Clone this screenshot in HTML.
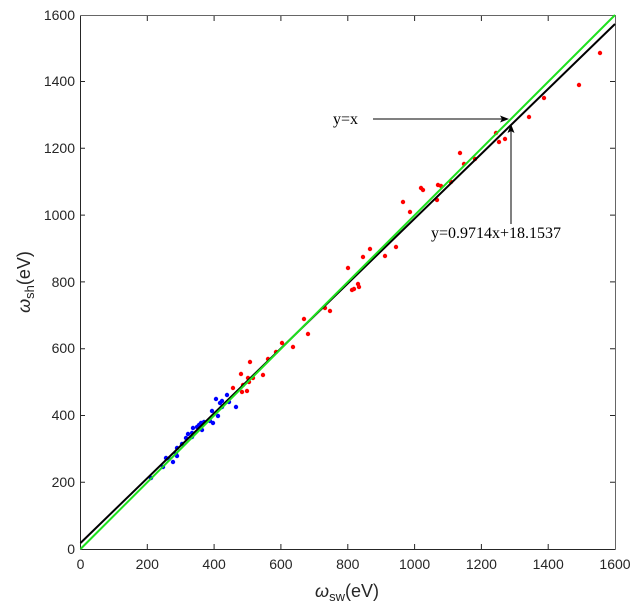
<!DOCTYPE html>
<html><head><meta charset="utf-8"><style>body{margin:0;background:#fff}svg{display:block}</style></head><body>
<svg width="643" height="614" viewBox="0 0 643 614" xmlns="http://www.w3.org/2000/svg" font-family="Liberation Sans, sans-serif">
<rect width="643" height="614" fill="#fff"/>
<g stroke="#262626" stroke-width="1" fill="none">
<path d="M80.5 549.5H615.5M80.5 549.5V15.5" />
<path d="M80.5 15.5H615.5V549.5" stroke="#666"/>
</g>
<g stroke="#262626" stroke-width="1">
<path d="M147.3 549v-5M214.1 549v-5M280.9 549v-5M347.8 549v-5M414.6 549v-5M481.4 549v-5M548.2 549v-5"/>
<path d="M147.3 16v5M214.1 16v5M280.9 16v5M347.8 16v5M414.6 16v5M481.4 16v5M548.2 16v5"/>
<path d="M80 482.3h5M80 415.5h5M80 348.7h5M80 281.9h5M80 215.1h5M80 148.3h5M80 81.5h5"/>
<path d="M615 482.3h-5M615 415.5h-5M615 348.7h-5M615 281.9h-5M615 215.1h-5M615 148.3h-5M615 81.5h-5"/>
</g>
<g fill="#262626" font-size="14" text-anchor="middle">
<text x="80.5" y="569">0</text><text x="147.3" y="569">200</text><text x="214.1" y="569">400</text><text x="280.9" y="569">600</text><text x="347.8" y="569">800</text><text x="414.6" y="569">1000</text><text x="481.4" y="569">1200</text><text x="548.2" y="569">1400</text><text x="615" y="569">1600</text>
</g>
<g fill="#262626" font-size="14" text-anchor="end">
<text x="75" y="554">0</text><text x="75" y="487">200</text><text x="75" y="420">400</text><text x="75" y="353">600</text><text x="75" y="287">800</text><text x="75" y="220">1000</text><text x="75" y="153">1200</text><text x="75" y="86">1400</text><text x="75" y="20">1600</text>
</g>
<text x="347" y="597" font-size="18" fill="#262626" text-anchor="middle"><tspan font-style="italic">ω</tspan><tspan font-size="13" dy="4">sw</tspan><tspan dy="-4">(eV)</tspan></text>
<text transform="translate(30,282) rotate(-90)" font-size="18" fill="#262626" text-anchor="middle"><tspan font-style="italic">ω</tspan><tspan font-size="13" dy="4">sh</tspan><tspan dy="-4">(eV)</tspan></text>
<g fill="#f00">
<circle cx="600" cy="53" r="2.2"/><circle cx="579" cy="85" r="2.2"/><circle cx="544" cy="98" r="2.2"/><circle cx="529" cy="117" r="2.2"/><circle cx="496" cy="133" r="2.2"/><circle cx="499" cy="142" r="2.2"/><circle cx="505" cy="139" r="2.2"/><circle cx="460" cy="153" r="2.2"/><circle cx="464" cy="164" r="2.2"/><circle cx="475" cy="159" r="2.2"/><circle cx="451" cy="182" r="2.2"/><circle cx="438" cy="185" r="2.2"/><circle cx="441" cy="186" r="2.2"/><circle cx="437" cy="200" r="2.2"/><circle cx="421" cy="188" r="2.2"/><circle cx="423" cy="190" r="2.2"/><circle cx="403" cy="202" r="2.2"/><circle cx="410" cy="212" r="2.2"/>
<circle cx="396" cy="247" r="2.2"/><circle cx="385" cy="256" r="2.2"/><circle cx="370" cy="249" r="2.2"/><circle cx="363" cy="257" r="2.2"/><circle cx="348" cy="268" r="2.2"/><circle cx="358" cy="284" r="2.2"/><circle cx="359" cy="287" r="2.2"/><circle cx="354" cy="289" r="2.2"/><circle cx="352" cy="290" r="2.2"/><circle cx="325" cy="308" r="2.2"/><circle cx="330" cy="311" r="2.2"/><circle cx="304" cy="319" r="2.2"/><circle cx="308" cy="334" r="2.2"/><circle cx="282" cy="343" r="2.2"/><circle cx="293" cy="347" r="2.2"/><circle cx="276" cy="352" r="2.2"/><circle cx="268" cy="359" r="2.2"/><circle cx="250" cy="362" r="2.2"/><circle cx="263" cy="375" r="2.2"/><circle cx="241" cy="374" r="2.2"/><circle cx="248" cy="378" r="2.2"/><circle cx="253" cy="378" r="2.2"/><circle cx="249" cy="382" r="2.2"/><circle cx="243" cy="385" r="2.2"/><circle cx="233" cy="388" r="2.2"/><circle cx="242" cy="392" r="2.2"/><circle cx="247" cy="391" r="2.2"/>
</g>
<g fill="#00f">
<circle cx="216" cy="399" r="2.2"/><circle cx="222" cy="401" r="2.2"/><circle cx="227" cy="395" r="2.2"/><circle cx="229" cy="402" r="2.2"/><circle cx="220" cy="403" r="2.2"/><circle cx="236" cy="407" r="2.2"/><circle cx="212" cy="411" r="2.2"/><circle cx="218" cy="416" r="2.2"/><circle cx="213" cy="423" r="2.2"/><circle cx="210" cy="421" r="2.2"/><circle cx="204" cy="422" r="2.2"/><circle cx="202" cy="430" r="2.2"/><circle cx="199" cy="425" r="2.2"/><circle cx="193" cy="428" r="2.2"/><circle cx="192" cy="433" r="2.2"/><circle cx="188" cy="434" r="2.2"/><circle cx="186" cy="438" r="2.2"/><circle cx="182" cy="444" r="2.2"/><circle cx="177" cy="448" r="2.2"/><circle cx="176" cy="454" r="2.2"/><circle cx="177" cy="456" r="2.2"/><circle cx="173" cy="462" r="2.2"/><circle cx="166" cy="458" r="2.2"/><circle cx="169" cy="459" r="2.2"/><circle cx="163" cy="467" r="2.2"/><circle cx="151" cy="478" r="2.2"/><circle cx="192" cy="437" r="2.2"/><circle cx="197" cy="427" r="2.2"/><circle cx="222" cy="407" r="2.2"/><circle cx="201" cy="423" r="2.2"/>
</g>
<line x1="80.5" y1="543" x2="615" y2="24" stroke="#000" stroke-width="2"/>
<line x1="80.5" y1="549" x2="615" y2="15" stroke="#1ee11e" stroke-width="2"/>
<g stroke="#000" stroke-width="1"><line x1="373" y1="119" x2="503" y2="119"/><line x1="511" y1="224" x2="511" y2="131"/></g>
<path d="M509 119l-9-3.5 2 3.5-2 3.5z M511 124l-3.5 9 3.5-2 3.5 2z" fill="#000"/>
<text x="333" y="124" font-family="Liberation Serif, serif" font-size="16">y=x</text>
<text x="431" y="238" font-family="Liberation Serif, serif" font-size="16">y=0.9714x+18.1537</text>
</svg>
</body></html>
